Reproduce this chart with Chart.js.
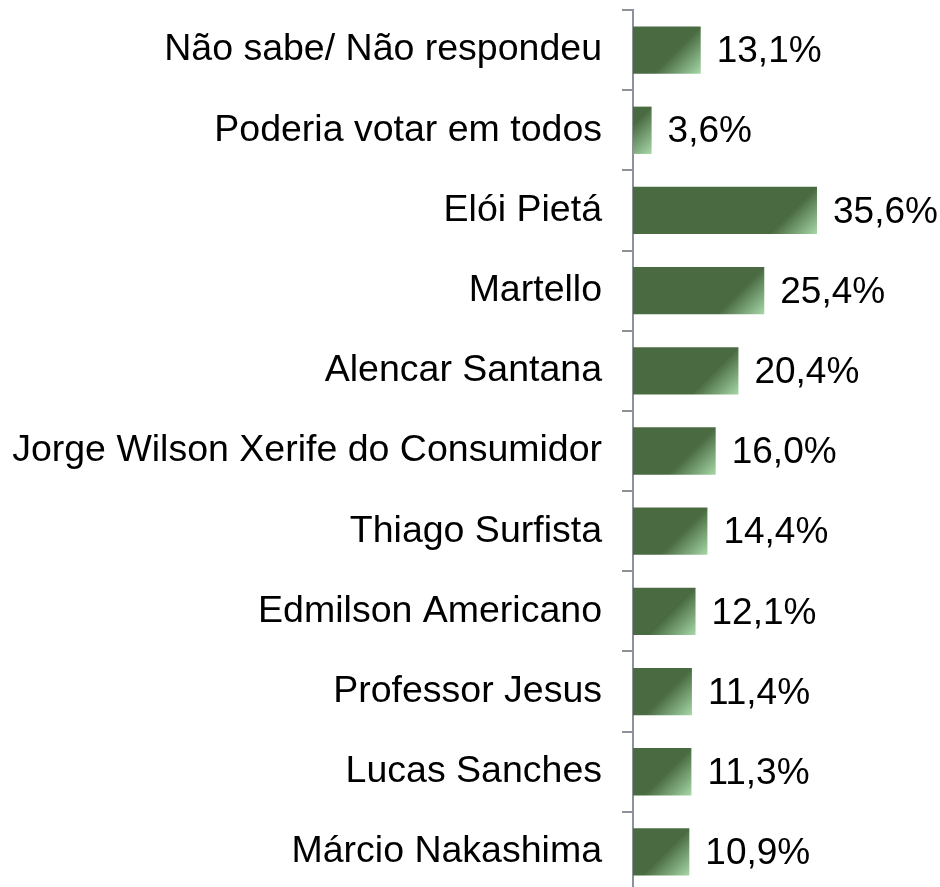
<!DOCTYPE html>
<html>
<head>
<meta charset="utf-8">
<script src="https://cdn.jsdelivr.net/npm/chart.js@4"></script>
<style>
  html, body { margin: 0; padding: 0; background: #fff; }
  #wrap { width: 940px; height: 887px; }
</style>
</head>
<body>
<div id="wrap"><canvas id="barChart" width="940" height="887"></canvas></div>
<script>
// Categories and values (top to bottom)
const categories = [
    "Não sabe/ Não respondeu",
    "Poderia votar em todos",
    "Elói Pietá",
    "Martello",
    "Alencar Santana",
    "Jorge Wilson Xerife do Consumidor",
    "Thiago Surfista",
    "Edmilson Americano",
    "Professor Jesus",
    "Lucas Sanches",
    "Márcio Nakashima"
];
const values = [13.1, 3.6, 35.6, 25.4, 20.4, 16.0, 14.4, 12.1, 11.4, 11.3, 10.9];

const DARK = "#4a6b42";
const LIGHT = "#a6d8a8";
const FONT = "'Liberation Sans', Arial, sans-serif";

function fmt(v) {
    return v.toFixed(1).replace(".", ",") + "%";
}

// Diagonal gradient that lightens the bottom-right corner of each bar
function barFill(context) {
    const chart = context.chart;
    const area = chart.chartArea;
    const xs = chart.scales.x, ys = chart.scales.y;
    if (!area || !xs || !ys || context.dataIndex === undefined) return DARK;
    const v = values[context.dataIndex];
    const x1 = xs.getPixelForValue(v);
    const yc = ys.getPixelForValue(context.dataIndex);
    const h = (area.bottom - area.top) / categories.length * 0.59;
    const g = chart.ctx.createLinearGradient(x1 - h, yc - h / 2, x1, yc + h / 2);
    g.addColorStop(0, DARK);
    g.addColorStop(0.5, DARK);
    g.addColorStop(1, LIGHT);
    return g;
}

// The original plot runs a few pixels past the bottom edge of the picture
const extendBottom = {
    id: "extendBottom",
    afterLayout(chart) {
        const y = chart.scales.y;
        chart.chartArea.bottom = 892;
        chart.chartArea.height = chart.chartArea.bottom - chart.chartArea.top;
        y.bottom = 892;
        y.height = y.bottom - y.top;
        y.configure();
    }
};

// Value labels to the right of bars
const valueLabels = {
    id: "valueLabels",
    afterDatasetsDraw(chart) {
        const ctx = chart.ctx;
        const meta = chart.getDatasetMeta(0);
        ctx.save();
        ctx.font = "37px " + FONT;
        ctx.fillStyle = "#000";
        ctx.textAlign = "left";
        ctx.textBaseline = "middle";
        meta.data.forEach(function(bar, i) {
            ctx.fillText(fmt(values[i]), bar.x + 16, bar.y + 2);
        });
        ctx.restore();
    }
};

const chart = new Chart(document.getElementById("barChart").getContext("2d"), {
    type: "bar",
    data: {
        labels: categories,
        datasets: [{
            data: values,
            backgroundColor: barFill,
            borderWidth: 0,
            categoryPercentage: 1,
            barPercentage: 0.59
        }]
    },
    options: {
        indexAxis: "y",
        responsive: false,
        animation: false,
        layout: { padding: { top: 10, bottom: 0, left: 0, right: 0 } },
        plugins: {
            legend: { display: false },
            tooltip: { enabled: false }
        },
        scales: {
            x: {
                display: false,
                min: 0,
                max: 59.4
            },
            y: {
                afterFit(scale) {
                    scale.width = 633;
                    scale.paddingTop = 0;
                    scale.paddingBottom = 0;
                },
                border: { display: true, color: "#8c929a", width: 2 },
                grid: {
                    drawOnChartArea: false,
                    drawTicks: true,
                    tickLength: 11,
                    color: "#8c929a",
                    lineWidth: 2,
                    offset: true
                },
                ticks: {
                    padding: 20,
                    color: "#000",
                    font: { size: 37.5, family: FONT }
                }
            }
        }
    },
    plugins: [extendBottom, valueLabels]
});
</script>
</body>
</html>
